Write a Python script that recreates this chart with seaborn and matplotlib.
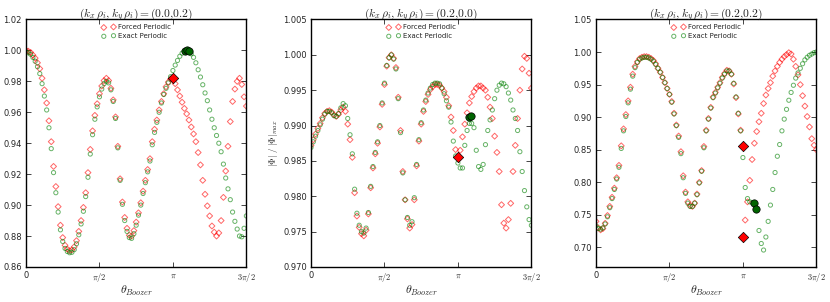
import numpy as np
import pandas as pd
import matplotlib
matplotlib.use("Agg")
import matplotlib.pyplot as plt
import seaborn as sns

# theta grid of the sampled points, 0 .. 3pi/2 in steps of pi/64
theta = np.arange(97) * np.pi / 64

# panel 1: (kx rho, ky rho) = (0.0, 0.2)
forced_1 = [
    1.0000, 0.9995, 0.9987, 0.9970, 0.9950, 0.9920, 0.9882, 0.9820, 0.9745, 0.9660,
    0.9545, 0.9410, 0.9250, 0.9120, 0.8990, 0.8870, 0.8790, 0.8740, 0.8715, 0.8705,
    0.8710, 0.8730, 0.8770, 0.8830, 0.8900, 0.8985, 0.9080, 0.9210, 0.9360, 0.9480,
    0.9580, 0.9655, 0.9720, 0.9770, 0.9805, 0.9820, 0.9805, 0.9755, 0.9680, 0.9570,
    0.9380, 0.9170, 0.9020, 0.8920, 0.8850, 0.8805, 0.8800, 0.8835, 0.8890, 0.8950,
    0.9015, 0.9090, 0.9160, 0.9230, 0.9300, 0.9410, 0.9490, 0.9550, 0.9615, 0.9670,
    0.9720, 0.9765, 0.9795, 0.9815, 0.9820, 0.9785, 0.9745, 0.9705, 0.9665, 0.9625,
    0.9590, 0.9550, 0.9505, 0.9460, 0.9410, 0.9340, 0.9260, 0.9160, 0.9070, 0.8995,
    0.8930, 0.8865, 0.8825, 0.8800, 0.8820, 0.8900, 0.9050, 0.9220, 0.9380, 0.9540,
    0.9670, 0.9750, 0.9800, 0.9820, 0.9780, 0.9700, 0.9640]
exact_1 = [
    0.9990, 0.9985, 0.9975, 0.9955, 0.9930, 0.9895, 0.9850, 0.9785, 0.9705, 0.9615,
    0.9500, 0.9365, 0.9210, 0.9080, 0.8955, 0.8840, 0.8765, 0.8720, 0.8700, 0.8692,
    0.8695, 0.8712, 0.8750, 0.8808, 0.8878, 0.8960, 0.9055, 0.9180, 0.9330, 0.9455,
    0.9555, 0.9635, 0.9700, 0.9750, 0.9785, 0.9800, 0.9790, 0.9745, 0.9670, 0.9560,
    0.9370, 0.9160, 0.9005, 0.8900, 0.8830, 0.8790, 0.8785, 0.8815, 0.8870, 0.8935,
    0.9000, 0.9075, 0.9145, 0.9215, 0.9285, 0.9390, 0.9470, 0.9535, 0.9600, 0.9660,
    0.9715, 0.9755, 0.9790, 0.9830, 0.9870, 0.9905, 0.9935, 0.9962, 0.9982, 0.9995,
    1.0000, 0.9993, 0.9978, 0.9955, 0.9920, 0.9875, 0.9828, 0.9778, 0.9725, 0.9675,
    0.9615, 0.9555, 0.9500, 0.9450, 0.9400, 0.9345, 0.9265, 0.9175, 0.9105, 0.9035,
    0.8955, 0.8895, 0.8845, 0.8800, 0.8795, 0.8850, 0.8930]

# panel 2: (0.2, 0.0)
forced_2 = [
    0.9872, 0.9880, 0.9888, 0.9896, 0.9903, 0.9911, 0.9917, 0.9920, 0.9921, 0.9919,
    0.9915, 0.9913, 0.9916, 0.9922, 0.9926, 0.9920, 0.9902, 0.9880, 0.9855, 0.9805,
    0.9772, 0.9756, 0.9747, 0.9744, 0.9752, 0.9775, 0.9812, 0.9840, 0.9860, 0.9875,
    0.9898, 0.9930, 0.9958, 0.9984, 0.9996, 1.0000, 0.9995, 0.9982, 0.9940, 0.9893,
    0.9835, 0.9795, 0.9768, 0.9755, 0.9760, 0.9795, 0.9843, 0.9878, 0.9902, 0.9920,
    0.9934, 0.9944, 0.9951, 0.9955, 0.9958, 0.9958, 0.9957, 0.9953, 0.9948, 0.9940,
    0.9928, 0.9912, 0.9893, 0.9866, 0.9855, 0.9865, 0.9884, 0.9902, 0.9918, 0.9932,
    0.9941, 0.9948, 0.9953, 0.9956, 0.9956, 0.9953, 0.9950, 0.9940, 0.9926, 0.9910,
    0.9885, 0.9862, 0.9835, 0.9788, 0.9762, 0.9755, 0.9767, 0.9790, 0.9835, 0.9872,
    0.9910, 0.9950, 0.9980, 0.9998, 0.9995, 0.9974, 0.9953]
exact_2 = [
    0.9869, 0.9877, 0.9885, 0.9893, 0.9901, 0.9909, 0.9916, 0.9920, 0.9920, 0.9918,
    0.9914, 0.9913, 0.9917, 0.9925, 0.9931, 0.9928, 0.9910, 0.9887, 0.9860, 0.9810,
    0.9776, 0.9759, 0.9750, 0.9748, 0.9755, 0.9777, 0.9814, 0.9842, 0.9862, 0.9877,
    0.9900, 0.9932, 0.9960, 0.9985, 0.9996, 1.0000, 0.9994, 0.9980, 0.9938, 0.9890,
    0.9833, 0.9795, 0.9770, 0.9759, 0.9764, 0.9798, 0.9845, 0.9880, 0.9904, 0.9922,
    0.9936, 0.9946, 0.9953, 0.9958, 0.9960, 0.9960, 0.9959, 0.9953, 0.9945, 0.9935,
    0.9926, 0.9905, 0.9878, 0.9857, 0.9847, 0.9840, 0.9840, 0.9872, 0.9893, 0.9903,
    0.9903, 0.9897, 0.9865, 0.9842, 0.9838, 0.9845, 0.9873, 0.9893, 0.9908, 0.9922,
    0.9938, 0.9950, 0.9957, 0.9960, 0.9959, 0.9955, 0.9946, 0.9936, 0.9922, 0.9910,
    0.9893, 0.9863, 0.9835, 0.9808, 0.9785, 0.9767, 0.9759]

# panel 3: (0.2, 0.2)
forced_3 = [
    0.740, 0.730, 0.727, 0.729, 0.737, 0.749, 0.763, 0.777, 0.791, 0.807,
    0.826, 0.856, 0.882, 0.904, 0.925, 0.946, 0.966, 0.978, 0.985, 0.990,
    0.992, 0.993, 0.993, 0.992, 0.990, 0.987, 0.982, 0.975, 0.969, 0.961,
    0.953, 0.944, 0.935, 0.924, 0.906, 0.888, 0.871, 0.847, 0.810, 0.785,
    0.770, 0.764, 0.763, 0.768, 0.782, 0.800, 0.818, 0.855, 0.880, 0.898,
    0.915, 0.931, 0.938, 0.946, 0.953, 0.961, 0.967, 0.972, 0.971, 0.966,
    0.951, 0.930, 0.905, 0.880, 0.855, 0.742, 0.770, 0.803, 0.835, 0.860,
    0.878, 0.893, 0.906, 0.921, 0.934, 0.944, 0.953, 0.963, 0.971, 0.978,
    0.984, 0.989, 0.993, 0.996, 0.999, 0.997, 0.989, 0.978, 0.965, 0.950,
    0.933, 0.917, 0.901, 0.885, 0.867, 0.857, 0.850]
exact_3 = [
    0.733, 0.729, 0.728, 0.730, 0.736, 0.747, 0.761, 0.775, 0.789, 0.805,
    0.823, 0.852, 0.879, 0.901, 0.922, 0.943, 0.963, 0.976, 0.984, 0.989,
    0.991, 0.992, 0.992, 0.991, 0.989, 0.986, 0.981, 0.975, 0.969, 0.961,
    0.953, 0.944, 0.935, 0.923, 0.905, 0.887, 0.869, 0.844, 0.807, 0.783,
    0.768, 0.763, 0.763, 0.768, 0.781, 0.799, 0.817, 0.853, 0.879, 0.897,
    0.914, 0.930, 0.937, 0.945, 0.952, 0.960, 0.966, 0.971, 0.971, 0.966,
    0.952, 0.931, 0.906, 0.879, 0.838, 0.792, 0.775, 0.770, 0.769, 0.767,
    0.757, 0.726, 0.706, 0.696, 0.716, 0.740, 0.765, 0.789, 0.815, 0.840,
    0.858, 0.879, 0.897, 0.912, 0.926, 0.938, 0.949, 0.960, 0.968, 0.975,
    0.982, 0.988, 0.992, 0.995, 0.997, 0.999, 1.000]

# highlighted points (theta, value)
red_pts = [[(np.pi, 0.982)], [(np.pi, 0.9855)], [(np.pi, 0.855), (np.pi, 0.716)]]
green_pts = [[(3.39, 0.9997), (3.44, 1.0), (3.48, 0.9996)],
             [(3.38, 0.9912), (3.43, 0.9913)],
             [(3.375, 0.768), (3.43, 0.759)]]

titles = [r"$(k_x\,\rho_i,k_y\,\rho_i)=(0.0{,}0.2)$",
          r"$(k_x\,\rho_i,k_y\,\rho_i)=(0.2{,}0.0)$",
          r"$(k_x\,\rho_i,k_y\,\rho_i)=(0.2{,}0.2)$"]
ylims = [(0.86, 1.02), (0.970, 1.005), (0.67, 1.05)]
yticks = [np.arange(0.86, 1.021, 0.02), np.arange(0.970, 1.0051, 0.005),
          np.arange(0.70, 1.051, 0.05)]
yfmt = ["%.2f", "%.3f", "%.2f"]
xtick_pos = [0, np.pi / 2, np.pi, 3 * np.pi / 2]
xtick_lab = ["0", r"$\pi/2$", r"$\pi$", r"$3\pi/2$"]

sns.set_style("ticks")
plt.rcParams["font.family"] = ["DejaVu Sans"]
plt.rcParams["mathtext.fontset"] = "cm"

fig = plt.figure(figsize=(8.3, 3.02), dpi=100)
lefts = [26 / 830, 311 / 830, 596 / 830]

series = [(forced_1, exact_1), (forced_2, exact_2), (forced_3, exact_3)]
for k in range(3):
    ax = fig.add_axes([lefts[k], 0.116, 0.2655, 0.8195])
    forced, exact = series[k]
    df = pd.DataFrame({"theta": theta, "forced": forced, "exact": exact})
    sns.scatterplot(data=df, x="theta", y="forced", marker="D", s=9,
                    facecolor="none", edgecolor=(1, 0, 0, 0.6), linewidth=0.7,
                    label="Forced Periodic", ax=ax)
    sns.scatterplot(data=df, x="theta", y="exact", marker="o", s=9,
                    facecolor="none", edgecolor=(0, 0.5, 0, 0.6), linewidth=0.7,
                    label="Exact Periodic", ax=ax)
    rp = np.array(red_pts[k])
    gp = np.array(green_pts[k])
    ax.scatter(rp[:, 0], rp[:, 1], marker="D", s=28, facecolor="red",
               edgecolor="black", linewidth=0.5, zorder=5)
    ax.scatter(gp[:, 0], gp[:, 1], marker="o", s=28, facecolor="darkgreen",
               edgecolor="black", linewidth=0.5, zorder=5)

    ax.set_xlim(0, 3 * np.pi / 2)
    ax.set_ylim(*ylims[k])
    ax.set_xticks(xtick_pos)
    ax.set_xticklabels(xtick_lab)
    ax.set_yticks(yticks[k])
    ax.set_yticklabels([yfmt[k] % v for v in yticks[k]])
    ax.tick_params(direction="in", top=True, right=True, length=3.5,
                   width=0.6, labelsize=6, pad=3)
    for sp in ax.spines.values():
        sp.set_linewidth(1.0)
        sp.set_color("black")
    ax.set_title(titles[k], fontsize=8.3, pad=2)
    ax.set_xlabel(r"$\theta_{Boozer}$", fontsize=8.5, labelpad=0)
    if k == 1:
        ax.set_ylabel(r"$|\Phi|\ /\ |\Phi|_{max}$", fontsize=6.5, labelpad=2)
    else:
        ax.set_ylabel("")
    ax.legend(loc="upper center", frameon=False, scatterpoints=2,
              fontsize=5, handletextpad=0.3, borderaxespad=0.3,
              labelspacing=0.4)

fig.savefig("out.png", dpi=100)
